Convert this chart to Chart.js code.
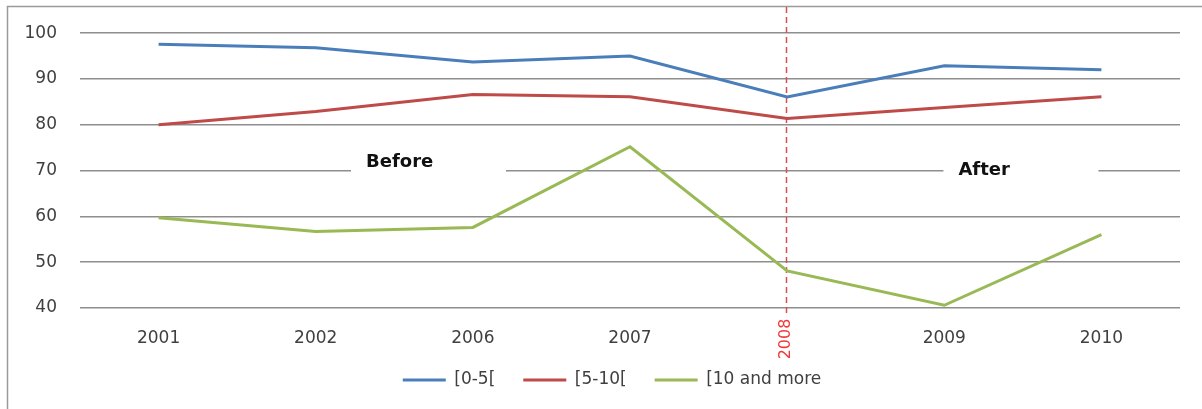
<!DOCTYPE html>
<html>
<head>
<meta charset="utf-8">
<script src="https://cdn.jsdelivr.net/npm/chart.js@4.4.1/dist/chart.umd.min.js"></script>
<style>
  html, body { margin: 0; padding: 0; background: #fff; }
  #wrap { width: 1202px; height: 409px; }
</style>
</head>
<body>
<div id="wrap"><canvas id="c" width="1202" height="409"></canvas></div>
<script>
// Survey years and share per age group
const years = ['2001', '2002', '2006', '2007', '2008', '2009', '2010'];
const group0to5 = [97.6, 96.8, 93.7, 95.0, 86.1, 92.9, 92.0];
const group5to10 = [80.0, 82.9, 86.6, 86.1, 81.4, 83.8, 86.1];
const group10plus = [59.7, 56.7, 57.6, 75.2, 48.1, 40.6, 56.0];
const seriesNames = ['[0-5[', '[5-10[', '[10 and more'];
const yTicks = [40, 50, 60, 70, 80, 90, 100];
const breakYear = '2008';
const periods = ['Before', 'After'];

const FONT = 'DejaVu Sans';
const TEXT = '#404040';
const COLORS = ['#4A7EBB', '#BE4B48', '#98B954'];

// Frame, period captions and the 2008 break marker
const decor = {
  id: 'decor',
  beforeDraw(chart) {
    const ctx = chart.ctx;
    ctx.save();
    ctx.strokeStyle = '#9a9a9a';
    ctx.lineWidth = 1.5;
    ctx.beginPath();
    ctx.moveTo(7.5, chart.height);
    ctx.lineTo(7.5, 6.5);
    ctx.lineTo(chart.width, 6.5);
    ctx.stroke();
    ctx.restore();
  },
  beforeDatasetsDraw(chart, args, opts) {
    const ctx = chart.ctx;
    const x = chart.scales.x, y = chart.scales.y;
    ctx.save();
    // period captions on white boxes
    ctx.font = 'bold 18px "' + FONT + '"';
    ctx.textBaseline = 'middle';
    ctx.textAlign = 'left';
    periods.forEach((txt, i) => {
      const p = opts.periodPos[i];
      const tx = x.getPixelForValue(p.at);
      const ty = y.getPixelForValue(p.value);
      ctx.fillStyle = '#fff';
      ctx.fillRect(tx - 15, ty - 12, 155, 24);
      ctx.fillStyle = '#111';
      ctx.fillText(txt, tx, ty);
    });
    // dashed break line
    const bx = Math.round(x.getPixelForValue(years.indexOf(breakYear))) - 0.5;
    ctx.strokeStyle = '#D2504E';
    ctx.lineWidth = 1.5;
    ctx.setLineDash([6, 4]);
    ctx.beginPath();
    ctx.moveTo(bx, 7);
    ctx.lineTo(bx, chart.chartArea.bottom + 5);
    ctx.stroke();
    ctx.restore();
  },
  afterDraw(chart) {
    const ctx = chart.ctx;
    const x = chart.scales.x;
    const bx = x.getPixelForValue(years.indexOf(breakYear)) - 1;
    ctx.save();
    ctx.translate(bx, chart.chartArea.bottom + 31);
    ctx.rotate(-Math.PI / 2);
    ctx.font = '16px "' + FONT + '"';
    ctx.fillStyle = '#F03A3A';
    ctx.textAlign = 'center';
    ctx.textBaseline = 'middle';
    ctx.fillText(breakYear, 0, 0);
    ctx.restore();
  }
};

new Chart(document.getElementById('c'), {
  type: 'line',
  data: {
    labels: years,
    datasets: [group0to5, group5to10, group10plus].map((d, i) => ({
      label: seriesNames[i],
      data: d,
      borderColor: COLORS[i],
      backgroundColor: COLORS[i],
      borderWidth: 3,
      pointRadius: 0,
      pointHoverRadius: 0,
      tension: 0,
      fill: false
    }))
  },
  options: {
    responsive: false,
    animation: false,
    devicePixelRatio: 1,
    layout: { padding: { left: 22, right: 0, top: 31, bottom: 10.5 } },
    plugins: {
      tooltip: { enabled: false },
      legend: {
        position: 'bottom',
        labels: {
          usePointStyle: true,
          pointStyle: 'line',
          pointStyleWidth: 43,
          padding: 28,
          color: TEXT,
          font: { family: FONT, size: 17 }
        }
      },
      decor: {
        periodPos: [{ at: 1.32, value: 71.7 }, { at: 5.09, value: 70.1 }]
      }
    },
    scales: {
      x: {
        type: 'category',
        offset: true,
        grid: { display: false, drawTicks: false, offset: true },
        border: { display: false },
        ticks: {
          padding: 20,
          color: TEXT,
          font: { family: FONT, size: 17 },
          maxRotation: 0,
          autoSkip: false,
          callback: (v, i) => (years[i] === breakYear ? '' : years[i])
        },
        afterFit(s) { s.height = 35.5; }
      },
      y: {
        min: 40,
        max: 100,
        afterBuildTicks(s) { s.ticks = yTicks.map(v => ({ value: v })); },
        grid: { color: '#8e8e8e', lineWidth: 1.6, drawTicks: false },
        border: { display: false },
        ticks: {
          padding: 23,
          color: TEXT,
          font: { family: FONT, size: 17 }
        },
        afterFit(s) { s.width = 58; }
      },
      yR: {
        position: 'right',
        display: true,
        grid: { display: false, drawTicks: false },
        border: { display: false },
        ticks: { display: false },
        afterFit(s) { s.width = 22; }
      }
    }
  },
  plugins: [decor]
});
</script>
</body>
</html>
